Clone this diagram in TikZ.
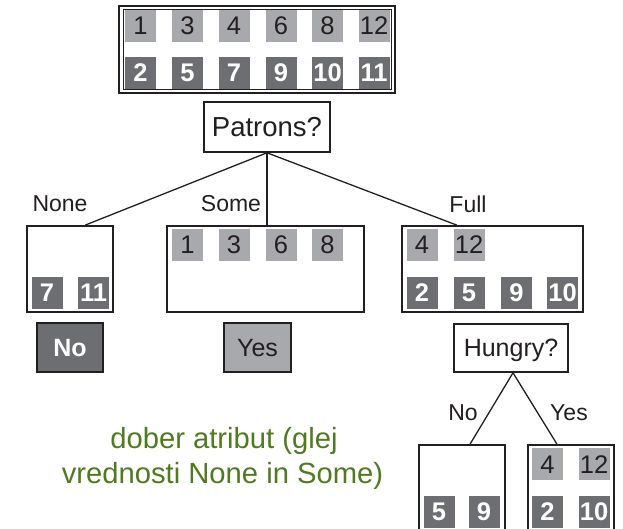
\documentclass[tikz,border=0pt]{standalone}
\usepackage{fontspec}
\setmainfont{Liberation Sans}
\definecolor{ink}{HTML}{231F20}
\definecolor{lgray}{HTML}{A7A9AC}
\definecolor{dgray}{HTML}{6D6E71}
\definecolor{note}{HTML}{4F7A1E}
\begin{document}
\begin{tikzpicture}[x=1pt,y=-1pt,
  sq/.style={minimum width=31pt, minimum height=32pt, inner sep=0pt,
    text height=18pt, text depth=0pt},
  lsq/.style={sq, fill=lgray, text=ink, font=\fontsize{25.5}{25.5}\selectfont},
  dsq/.style={sq, fill=dgray, text=white, font=\fontsize{25.5}{25.5}\selectfont\bfseries},
  box/.style={draw=ink, line width=1.6pt, fill=white, inner sep=0pt},
  test/.style={box, font=\fontsize{#1}{#1}\selectfont, text=ink,
    text height=0.716*#1 pt, text depth=0pt},
  branch/.style={text=ink, font=\fontsize{23}{23}\selectfont, inner sep=0pt},
  conn/.style={draw=ink, line width=1.3pt},
  leaf/.style={draw=ink, line width=1.6pt, minimum width=66pt, minimum height=49pt,
    inner sep=0pt, font=\fontsize{25}{25}\selectfont, text height=17.9pt, text depth=0pt},
  remark/.style={text=note, anchor=base, inner sep=0pt, font=\fontsize{29.2}{29.2}\selectfont}
]
\useasboundingbox (0,0) rectangle (623,529);
\clip (0,0) rectangle (623,529);

% all twelve examples
\node[draw=ink, line width=2.2pt, minimum width=276pt, minimum height=87pt, inner sep=0pt] (all) at (257,49.5) {};
\node[draw=ink, line width=0.8pt, minimum width=268pt, minimum height=80.5pt, inner sep=0pt] (allin) at (all.center) {};
\node[lsq] (a1)  at (140.5,26) {1};
\node[lsq] (a3)  at (187.5,26) {3};
\node[lsq] (a4)  at (234,26) {4};
\node[lsq] (a6)  at (281,26) {6};
\node[lsq] (a8)  at (327.5,26) {8};
\node[lsq] (a12) at (374,26) {12};
\node[dsq] (a2)  at (140.5,73) {2};
\node[dsq] (a5)  at (187.5,73) {5};
\node[dsq] (a7)  at (234,73) {7};
\node[dsq] (a9)  at (281,73) {9};
\node[dsq] (a10) at (327.5,73) {10};
\node[dsq] (a11) at (374,73) {11};

% first test
\node[test=27.5, minimum width=126pt, minimum height=50pt] (patrons) at (267,127) {Patrons?};

% subsets after the split
\node[box, minimum width=86pt, minimum height=86pt] (none) at (70,269) {};
\node[box, minimum width=197pt, minimum height=86pt] (some) at (265.5,269) {};
\node[box, minimum width=181pt, minimum height=86pt] (full) at (492.5,269) {};

\draw[conn] (patrons.south) -- ([xshift=15pt]none.north);
\draw[conn] (patrons.south) -- ([xshift=1.5pt]some.north);
\draw[conn] (patrons.south) -- ([xshift=-35.5pt]full.north);

\node[branch] (lnone) at (60,204) {None};
\node[branch] (lsome) at (231,204) {Some};
\node[branch] (lfull) at (468,204) {Full};

\node[dsq] (n7)  at (47,292.5) {7};
\node[dsq] (n11) at (93.5,292.5) {11};

\node[lsq] (s1) at (187.5,245) {1};
\node[lsq] (s3) at (234,245) {3};
\node[lsq] (s6) at (281,245) {6};
\node[lsq] (s8) at (327.5,245) {8};

\node[lsq] (f4)  at (422,245) {4};
\node[lsq] (f12) at (469,245) {12};
\node[dsq] (f2)  at (422,292.5) {2};
\node[dsq] (f5)  at (469,292.5) {5};
\node[dsq] (f9)  at (516.5,292.5) {9};
\node[dsq] (f10) at (562.5,292.5) {10};

% decisions
\node[leaf, fill=dgray, text=white, font=\fontsize{25}{25}\selectfont\bfseries] (no) at (70,347.5) {No};
\node[leaf, fill=lgray, text=ink, minimum width=67pt] (yes) at (257.5,347.5) {Yes};

% second test
\node[test=25, minimum width=114pt, minimum height=48pt] (hungry) at (511,348) {Hungry?};

\node[box, minimum width=86pt, minimum height=100pt] (hno) at (462,495) {};
\node[box, minimum width=86pt, minimum height=100pt] (hyes) at (571,495) {};

\draw[conn] ([xshift=2pt]hungry.south) -- ([xshift=8pt]hno.north);
\draw[conn] ([xshift=2pt]hungry.south) -- ([xshift=-14pt]hyes.north);

\node[branch] (lhno)  at (463,413) {No};
\node[branch] (lhyes) at (569,413) {Yes};

\node[dsq] (b5) at (439,511.5) {5};
\node[dsq] (b9) at (484,511.5) {9};
\node[lsq] (c4)  at (547.5,464) {4};
\node[lsq] (c12) at (594,464) {12};
\node[dsq] (c2)  at (547.5,511.5) {2};
\node[dsq] (c10) at (594,511.5) {10};

% remark
\node[remark] (remark1) at (224,448) {dober atribut (glej};
\node[remark] (remark2) at (222.5,483) {vrednosti None in Some)};
\end{tikzpicture}
\end{document}
